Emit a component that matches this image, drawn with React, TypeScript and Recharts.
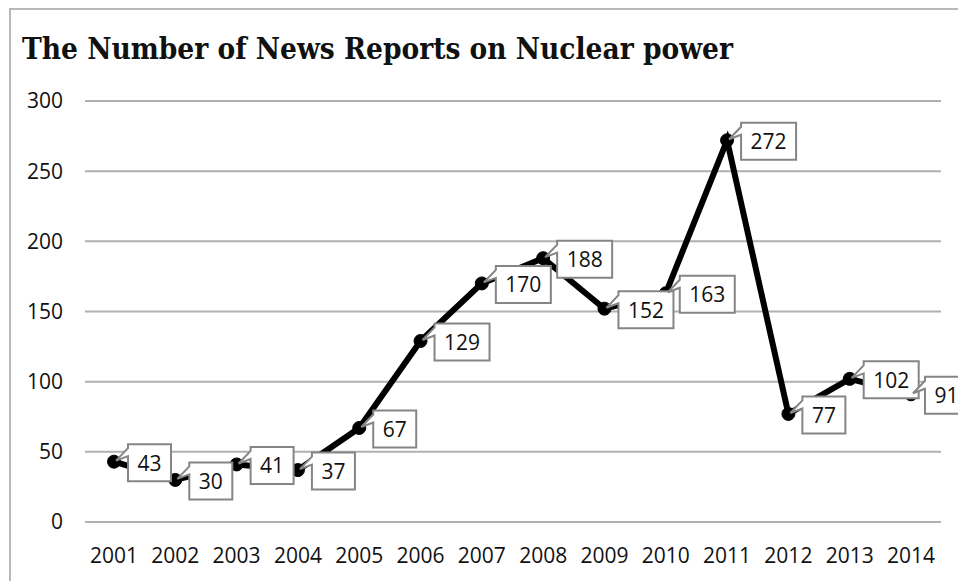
import { LineChart, Line, XAxis, YAxis, CartesianGrid, LabelList } from "recharts";

const years = ["2001", "2002", "2003", "2004", "2005", "2006", "2007", "2008", "2009", "2010", "2011", "2012", "2013", "2014"];
const reports = [43, 30, 41, 37, 67, 129, 170, 188, 152, 163, 272, 77, 102, 91];
const yTicks = [0, 50, 100, 150, 200, 250, 300];

const data = years.map((year, i) => ({ year, reports: reports[i] }));

const labelFont = "'Open Sans', 'Liberation Sans', sans-serif";

// callout box to the right of each point, with a small wedge pointing back at it
function Callout(props: any) {
	const { x, y, value } = props;
	const text = String(value);
	const w = text.length * 12 + 19;
	const h = 37;
	const left = x + 14;
	const top = y - h / 2 + 1;
	const path = [
		`M${left},${top}`,
		`L${left + w},${top}`,
		`L${left + w},${top + h}`,
		`L${left},${top + h}`,
		`L${left},${top + 12}`,
		`L${x + 2},${y - 1}`,
		`L${left},${top + 4}`,
		"Z",
	].join(" ");
	return (
		<g>
			<path d={path} fill="#fff" stroke="#858585" strokeWidth={2} />
			<text
				x={left + w / 2}
				y={top + h / 2 + 8}
				textAnchor="middle"
				fontSize={21}
				fontFamily={labelFont}
				fill="#111"
			>
				{text}
			</text>
		</g>
	);
}

export default function App() {
	return (
		<div style={{ position: "absolute", left: 0, top: 0, width: 958, height: 581, overflow: "hidden", background: "#fff" }}>
			<div style={{ position: "absolute", left: 9, top: 8, width: 980, height: 600, border: "2px solid #b8b8b8" }} />
			<div
				style={{
					position: "absolute",
					left: 22,
					top: 29,
					fontFamily: "'DejaVu Serif', serif",
					fontWeight: "bold",
					fontSize: 29.5,
					fontStretch: "condensed",
					color: "#111",
					whiteSpace: "nowrap",
					lineHeight: "40px",
				}}
			>
				The Number of News Reports on Nuclear power
			</div>
			<LineChart
				width={958}
				height={581}
				data={data}
				margin={{ top: 101, right: 17, bottom: 29, left: 0 }}
				style={{ position: "absolute", left: 0, top: 0 }}
			>
				<CartesianGrid vertical={false} stroke="#b0b0b0" strokeWidth={2} />
				<XAxis
					dataKey="year"
					axisLine={false}
					tickLine={false}
					tickSize={0}
					tickMargin={26}
					height={30}
					interval={0}
					padding={{ left: 29, right: 30 }}
					tick={{ fill: "#111", fontSize: 21, fontFamily: labelFont }}
				/>
				<YAxis
					domain={[0, 300]}
					ticks={yTicks}
					axisLine={false}
					tickLine={false}
					tickSize={0}
					tickMargin={22}
					width={85}
					tick={{ fill: "#111", fontSize: 21, fontFamily: labelFont }}
				/>
				<Line
					dataKey="reports"
					stroke="#000"
					strokeWidth={6}
					dot={{ r: 6.5, fill: "#000", stroke: "#000", strokeWidth: 1 }}
					isAnimationActive={false}
				>
					<LabelList dataKey="reports" content={<Callout />} />
				</Line>
			</LineChart>
		</div>
	);
}
